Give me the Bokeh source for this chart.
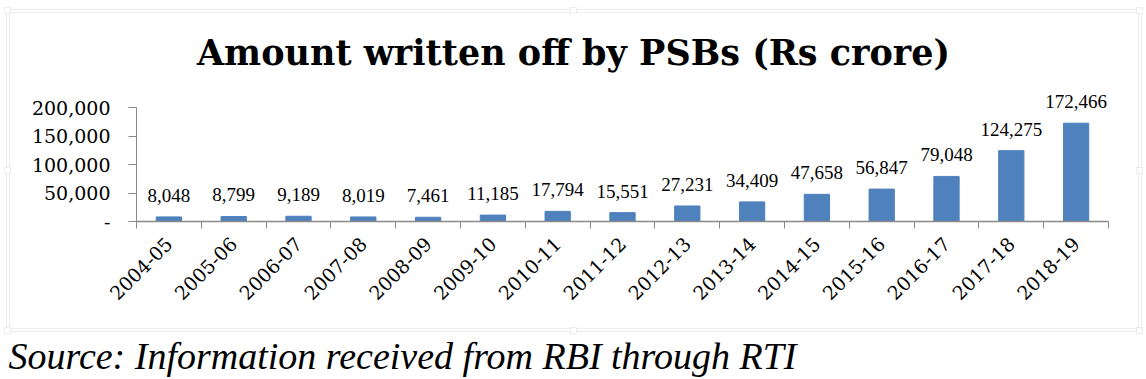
import math
from bokeh.plotting import figure
from bokeh.models import (ColumnDataSource, FixedTicker, LabelSet, Label,
                          BoxAnnotation, Range1d)
from bokeh.embed import file_html
from bokeh.resources import INLINE

years = ["2004-05", "2005-06", "2006-07", "2007-08", "2008-09", "2009-10",
         "2010-11", "2011-12", "2012-13", "2013-14", "2014-15", "2015-16",
         "2016-17", "2017-18", "2018-19"]
written_off = [8048, 8799, 9189, 8019, 7461, 11185, 17794, 15551, 27231,
               34409, 47658, 56847, 79048, 124275, 172466]
y_ticks = [0, 50000, 100000, 150000, 200000]
y_tick_labels = ["-", "50,000", "100,000", "150,000", "200,000"]

title_text = "Amount written off by PSBs (Rs crore)"
source_text = "Source: Information received from RBI through RTI"

SERIF = "DejaVu Serif"
GRAY = "#898989"
BOX = "#c4c4c4"

W, H = 1146, 379
n = len(years)
xs = [i + 0.5 for i in range(n)]
src = ColumnDataSource(dict(x=xs, y=written_off,
                            lbl=[f"{v:,}" for v in written_off]))

# plot area (axes) occupies pixels x 136..1108, y 107..221 of the canvas
px_per_cat = (1108 - 136) / n
units_per_px = 200000 / (221 - 107)
x_range = Range1d(-136 / px_per_cat, n + (W - 1108) / px_per_cat)
y_range = Range1d(-(H - 221) * units_per_px, 221 * units_per_px)

p = figure(width=W, height=H, output_backend="svg", toolbar_location=None,
           x_range=x_range, y_range=y_range,
           min_border_left=0, min_border_right=0,
           min_border_top=0, min_border_bottom=0)
p.outline_line_color = None
p.xgrid.visible = False
p.ygrid.visible = False
p.background_fill_color = "white"
p.border_fill_color = "white"

p.vbar(x="x", top="y", width=0.39, source=src, color="#4F81BD")

labels = LabelSet(x="x", y="y", text="lbl", source=src, text_align="center",
                  text_baseline="alphabetic", y_offset=15,
                  text_font=SERIF, text_font_size="19px", text_color="black")
p.add_layout(labels)

# y axis
p.yaxis.fixed_location = 0
p.yaxis.bounds = (0, 200000)
p.yaxis.ticker = FixedTicker(ticks=y_ticks, minor_ticks=[])
p.yaxis.major_label_overrides = {t: l for t, l in zip(y_ticks, y_tick_labels)}
p.yaxis.axis_line_color = GRAY
p.yaxis.major_tick_line_color = GRAY
p.yaxis.major_tick_out = 8
p.yaxis.major_tick_in = 0
p.yaxis.minor_tick_line_color = None
p.yaxis.major_label_standoff = 18
p.yaxis.major_label_text_font = SERIF
p.yaxis.major_label_text_font_size = "19px"
p.yaxis.major_label_text_color = "black"

# x axis
p.xaxis.fixed_location = 0
p.xaxis.bounds = (0, n)
p.xaxis.ticker = FixedTicker(ticks=xs, minor_ticks=list(range(n + 1)))
p.xaxis.major_label_overrides = {x: y for x, y in zip(xs, years)}
p.xaxis.axis_line_color = GRAY
p.xaxis.axis_line_width = 1.5
p.xaxis.major_tick_line_color = None
p.xaxis.minor_tick_line_color = GRAY
p.xaxis.minor_tick_out = 7
p.xaxis.minor_tick_in = 0
p.xaxis.major_label_orientation = math.pi / 4
p.xaxis.major_label_standoff = 12
p.xaxis.major_label_text_font = SERIF
p.xaxis.major_label_text_font_size = "19px"
p.xaxis.major_label_text_color = "black"


def sbox(l, r, t, b, **kw):
    return BoxAnnotation(left=l, right=r, top=H - t, bottom=H - b,
                         left_units="screen", right_units="screen",
                         top_units="screen", bottom_units="screen", **kw)


# chart border (double line) and selection handles
p.add_layout(sbox(6, 1141, 9, 331, fill_color=None, line_color=BOX, line_width=1))
p.add_layout(sbox(9, 1138, 12, 328, fill_color=None, line_color=BOX, line_width=1))
for hx, hy in [(7, 10), (573, 10), (1139, 10), (7, 170), (1139, 170),
               (7, 330), (573, 330), (1139, 330)]:
    p.add_layout(sbox(hx - 3, hx + 3, hy - 3, hy + 3, fill_color="white",
                      fill_alpha=1, line_color=BOX, line_width=1))

p.add_layout(Label(x=573, y=H - 52, x_units="screen", y_units="screen",
                   text=title_text, text_align="center",
                   text_baseline="alphabetic", text_font="DejaVu Serif",
                   text_font_style="bold", text_font_size="35px",
                   text_color="black"))
p.add_layout(Label(x=8, y=H - 355, x_units="screen", y_units="screen",
                   text=source_text, text_align="left",
                   text_baseline="alphabetic", text_font="Liberation Serif",
                   text_font_style="italic", text_font_size="38px",
                   text_color="black"))

open("out.html", "w").write(file_html(p, INLINE))
